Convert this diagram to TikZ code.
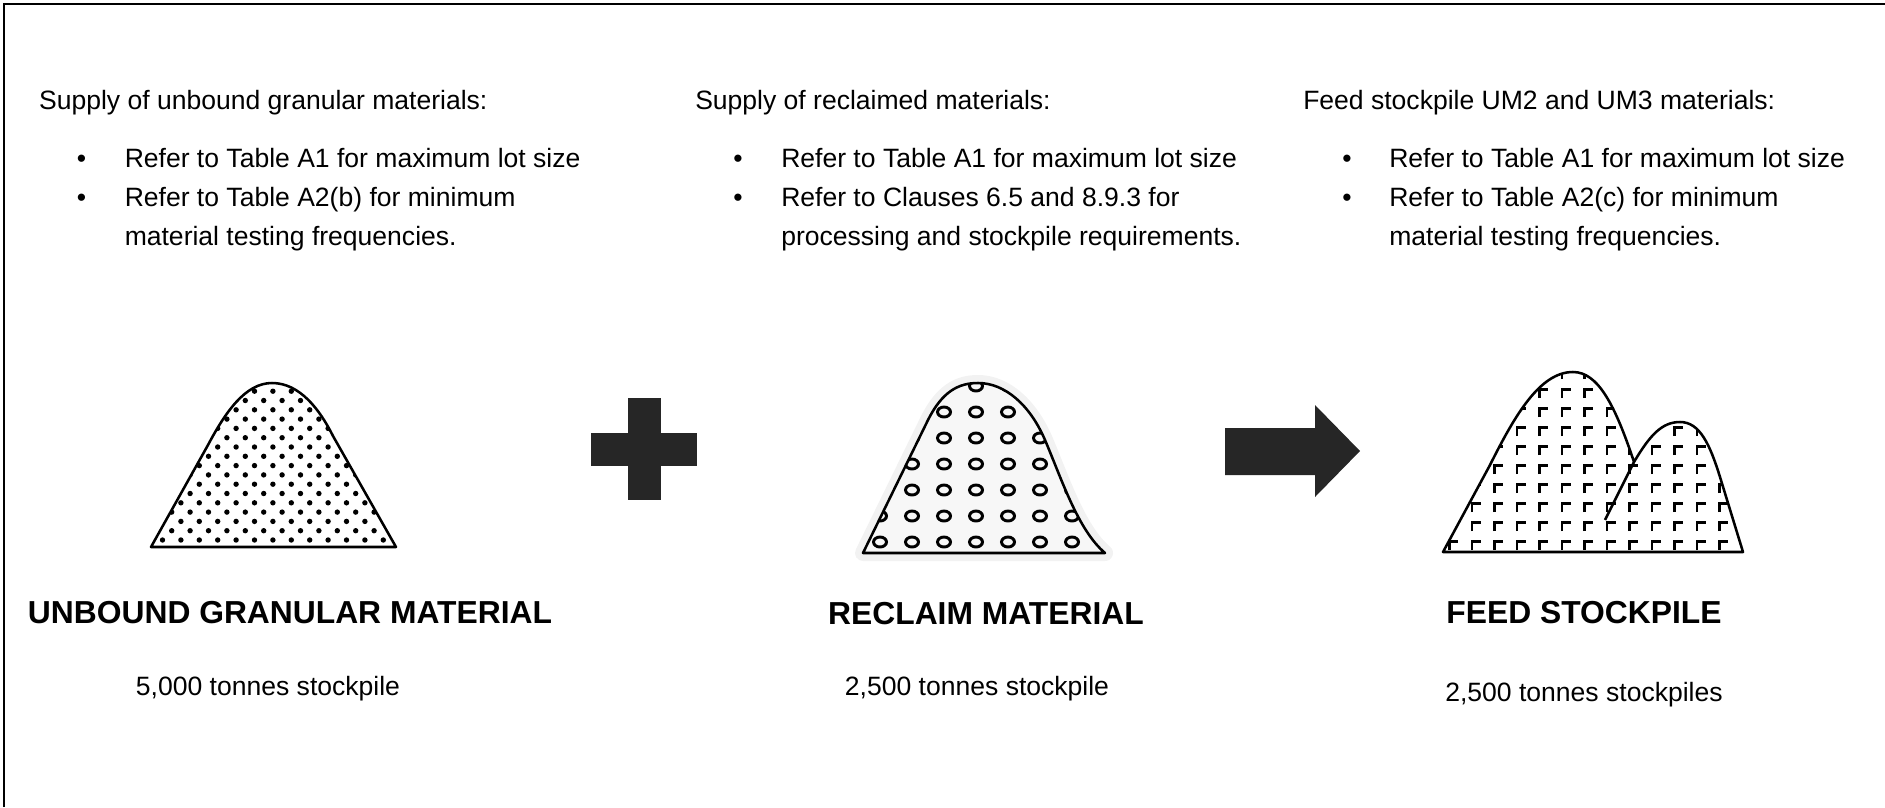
\documentclass[tikz,border=0pt]{standalone}
\usepackage{fontspec}
\setmainfont{Liberation Sans}
\usetikzlibrary{calc}
\def\pileA{(151,547) -- (208,445) .. controls (225,413) and (245,383) .. (272,383) .. controls (300,383) and (320,410) .. (333,436) -- (396,547) -- cycle}
\def\pileB{(863,553) -- (928,420) .. controls (942,392) and (958,383) .. (978,383) .. controls (1005,383) and (1030,405) .. (1045,440) .. controls (1062,480) and (1078,530) .. (1105,553) -- cycle}
\def\pileC{(1443,552) -- (1490,465) .. controls (1515,415) and (1540,372) .. (1573,372) .. controls (1598,372) and (1615,405) .. (1634,462) .. controls (1650,435) and (1662,422) .. (1680,422) .. controls (1700,422) and (1710,445) .. (1720,477) -- (1743,552) -- cycle}
\def\corner(#1,#2){\draw[line width=1.9pt] (#1-3.5,#2+5) -- (#1-3.5,#2-3.5) -- (#1+5,#2-3.5);}
\tikzset{
  txt/.style={anchor=base west, inner sep=0pt, font=\fontsize{19.9}{24}\selectfont},
  blt/.style={anchor=base, inner sep=0pt, font=\fontsize{19.9}{24}\selectfont},
  sub/.style={anchor=base, inner sep=0pt, font=\fontsize{19.9}{24}\selectfont},
  ttl/.style={anchor=base, inner sep=0pt, font=\fontsize{23.85}{28}\selectfont\bfseries},
  pile/.style={line width=1.9pt, line join=round}
}

\begin{document}
\begin{tikzpicture}[x=0.75pt, y=-0.75pt]
			%%%%% START %%%%%
			\useasboundingbox (0,0) rectangle (1885,807);
			
			\draw[line width=2.2pt] (4,807) -- (4,4) -- (1885,4);
			
			% supply texts
			\node[txt] (hA) at (38.8,109) {Supply of unbound granular materials:};
			\node[blt] (bA1) at (81.6,167) {•};
			\node[txt] (lA1) at (124.5,167) {Refer to Table A1 for maximum lot size};
			\node[blt] (bA2) at (81.6,206) {•};
			\node[txt] (lA2) at (124.5,206) {Refer to Table A2(b) for minimum};
			\node[txt] (lA3) at (124.5,245) {material testing frequencies.};
			
			\node[txt] (hB) at (695,109) {Supply of reclaimed materials:};
			\node[blt] (bB1) at (738,167) {•};
			\node[txt] (lB1) at (781,167) {Refer to Table A1 for maximum lot size};
			\node[blt] (bB2) at (738,206) {•};
			\node[txt] (lB2) at (781,206) {Refer to Clauses 6.5 and 8.9.3 for};
			\node[txt] (lB3) at (781,245) {processing and stockpile requirements.};
			
			\node[txt] (hC) at (1303,109) {Feed stockpile UM2 and UM3 materials:};
			\node[blt] (bC1) at (1347,167) {•};
			\node[txt] (lC1) at (1389,167) {Refer to Table A1 for maximum lot size};
			\node[blt] (bC2) at (1347,206) {•};
			\node[txt] (lC2) at (1389,206) {Refer to Table A2(c) for minimum};
			\node[txt] (lC3) at (1389,245) {material testing frequencies.};
			
			% unbound pile
			\begin{scope}
				\clip \pileA;
				\foreach \j in {0,...,17} {
					\foreach \i in {-1,...,14} {
						\fill ({162.5+18.4*\i+9.2*mod(\j,2)}, {540-9.3*\j}) circle (2.7);
					}
				}
			\end{scope}
			\draw[pile] \pileA;
			
			% plus
			\fill[black!85] (627.5,398) rectangle (660.8,500);
			\fill[black!85] (591,433) rectangle (697,466);
			
			% reclaim pile
			\draw[black!5, line width=12pt, line join=round] \pileB;
			\fill[black!3] \pileB;
			\begin{scope}
				\clip \pileB;
				\foreach \j in {0,...,6} {
					\foreach \i in {0,...,6} {
						\draw[line width=2.2pt] ({880+32*\i}, {542-26*\j}) ellipse (6.5 and 5);
					}
				}
			\end{scope}
			\draw[pile] \pileB;
			
			% arrow
			\fill[black!85] (1225,428) -- (1315,428) -- (1315,405) -- (1360,451) -- (1315,497) -- (1315,475) -- (1225,475) -- cycle;
			
			% feed stockpile
			\begin{scope}
				\clip \pileC;
				\foreach \j in {0,...,9} {
					\foreach \i in {0,...,13} {
						\corner({1453+22.5*\i},{545-19*\j})
					}
				}
			\end{scope}
			\draw[pile] \pileC;
			\draw[pile] (1605,520) -- (1634,462);
			
			% labels
			\node[ttl] (tA) at (290,623) {UNBOUND GRANULAR MATERIAL};
			\node[sub] (sA) at (268,695) {5,000 tonnes stockpile};
			\node[ttl] (tB) at (986,624) {RECLAIM MATERIAL};
			\node[sub] (sB) at (977,695) {2,500 tonnes stockpile};
			\node[ttl] (tC) at (1584,623) {FEED STOCKPILE};
			\node[sub] (sC) at (1584,701) {2,500 tonnes stockpiles};
			
			%%%%% END %%%%%
\end{tikzpicture}
\end{document}
